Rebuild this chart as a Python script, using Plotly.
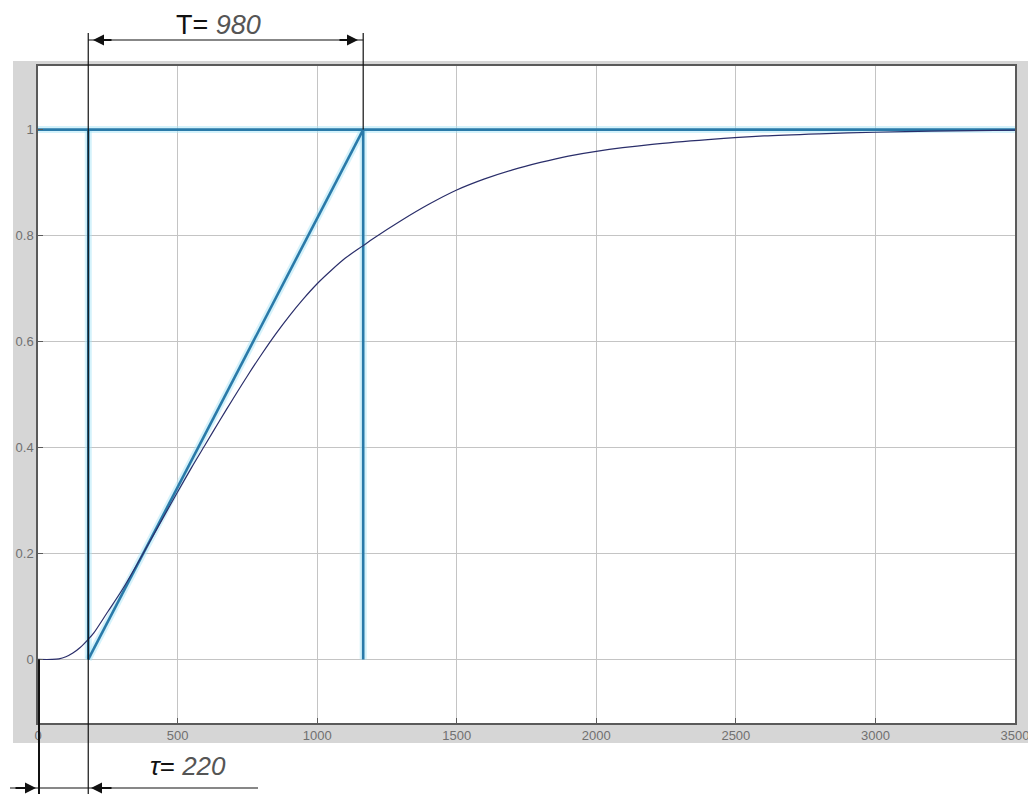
import plotly.graph_objects as go

# ---- data ----
t_vals = [0, 50, 75, 100, 125, 150, 180, 200, 250, 300, 350, 400, 450, 500, 550, 600,
          650, 700, 750, 800, 850, 900, 950, 1000, 1050, 1100, 1165, 1200, 1300, 1400,
          1500, 1600, 1700, 1800, 1900, 2000, 2200, 2400, 2600, 2800, 3000, 3200, 3500]
y_vals = [0, 0, 0.001, 0.005, 0.012, 0.022, 0.038, 0.05, 0.09, 0.13, 0.175, 0.222, 0.269,
          0.316, 0.362, 0.406, 0.45, 0.493, 0.535, 0.575, 0.613, 0.648, 0.68, 0.709,
          0.734, 0.757, 0.781, 0.794, 0.828, 0.859, 0.886, 0.907, 0.924, 0.938, 0.95,
          0.959, 0.972, 0.981, 0.988, 0.992, 0.995, 0.997, 0.999]

delay_x = 180          # start of tangent (vertical line 1)
end_x = 1165           # end of tangent (vertical line 2)
level_y = 1.0          # steady state level
tangent_x = [delay_x, end_x]
tangent_y = [0, level_y]

x_range = [0, 3500]
y_range = [-0.12, 1.12]
x_ticks = [0, 500, 1000, 1500, 2000, 2500, 3000, 3500]
y_ticks = [0, 0.2, 0.4, 0.6, 0.8, 1]
y_tick_text = ["0", "0.2", "0.4", "0.6", "0.8", "1"]

label_T = "T= <span style='color:#555555'><i>980</i></span>"
label_tau = "<i>τ</i>= <span style='color:#555555'><i>220</i></span>"

# ---- layout geometry (pixels) ----
L, R, T, B = 38, 1015, 66, 723
W, H = R - L, B - T


def pxp(xpix):
    return (xpix - L) / W


def pyp(ypix):
    return (B - ypix) / H


def xdata_to_paper(v):
    return (v - x_range[0]) / (x_range[1] - x_range[0])


def ydata_to_paper(v):
    return (v - y_range[0]) / (y_range[1] - y_range[0])


teal = "#2a7aa9"
halo = "rgba(170,230,248,0.5)"

fig = go.Figure()

teal_segments = [
    ([x_range[0], x_range[1]], [level_y, level_y]),
    ([delay_x, delay_x], [0, level_y]),
    ([end_x, end_x], [0, level_y]),
    (tangent_x, tangent_y),
]
for xs, ys in teal_segments:
    fig.add_trace(go.Scatter(x=xs, y=ys, mode="lines",
                             line=dict(color=halo, width=7),
                             hoverinfo="skip", showlegend=False))
for xs, ys in teal_segments:
    fig.add_trace(go.Scatter(x=xs, y=ys, mode="lines",
                             line=dict(color=teal, width=2.6),
                             hoverinfo="skip", showlegend=False))

fig.add_trace(go.Scatter(x=t_vals, y=y_vals, mode="lines",
                         line=dict(color="#2a2e6a", width=1.2, shape="spline", smoothing=0.8),
                         showlegend=False))

shapes = []
# gray figure panel
shapes.append(dict(type="rect", xref="paper", yref="paper",
                   x0=pxp(13), x1=pxp(1035), y0=pyp(743), y1=pyp(61),
                   fillcolor="#d6d6d6", line=dict(width=0), layer="below"))
shapes.append(dict(type="rect", xref="paper", yref="paper",
                   x0=0, x1=1, y0=0, y1=1,
                   fillcolor="white", line=dict(width=0), layer="below"))
# extension lines
blk = dict(color="#111111", width=1.2)
shapes.append(dict(type="line", xref="paper", yref="paper",
                   x0=xdata_to_paper(delay_x), x1=xdata_to_paper(delay_x),
                   y0=pyp(33), y1=pyp(800), line=blk))
shapes.append(dict(type="line", xref="paper", yref="paper",
                   x0=xdata_to_paper(end_x), x1=xdata_to_paper(end_x),
                   y0=pyp(33), y1=ydata_to_paper(level_y), line=blk))
shapes.append(dict(type="line", xref="paper", yref="paper",
                   x0=xdata_to_paper(0) + 0.001, x1=xdata_to_paper(0) + 0.001,
                   y0=ydata_to_paper(0), y1=pyp(800), line=dict(color="#111111", width=2)))
# dimension lines
shapes.append(dict(type="line", xref="paper", yref="paper",
                   x0=xdata_to_paper(delay_x), x1=xdata_to_paper(end_x),
                   y0=pyp(40), y1=pyp(40), line=blk))
shapes.append(dict(type="line", xref="paper", yref="paper",
                   x0=pxp(10), x1=pxp(258),
                   y0=pyp(788), y1=pyp(788), line=blk))

annotations = [
    dict(xref="paper", yref="paper", x=pxp(218), y=pyp(25), text=label_T,
         showarrow=False, xanchor="center", yanchor="middle",
         font=dict(family="Liberation Sans, Arial", size=27, color="#111111")),
    dict(xref="paper", yref="paper", x=pxp(188), y=pyp(766), text=label_tau,
         showarrow=False, xanchor="center", yanchor="middle",
         font=dict(family="Liberation Sans, Arial", size=26, color="#111111")),
]

arrow_common = dict(xref="paper", yref="paper", text="", showarrow=True,
                    arrowhead=2, arrowsize=1.0, arrowwidth=2.2, arrowcolor="#111111",
                    axref="pixel", ayref="pixel", ay=0, standoff=0)
# top arrows (pointing outwards to extension lines)
annotations.append(dict(arrow_common, x=pxp(93), y=pyp(40), ax=20))
annotations.append(dict(arrow_common, x=pxp(358), y=pyp(40), ax=-20))
# bottom arrows (pointing inwards from outside)
annotations.append(dict(arrow_common, x=pxp(36), y=pyp(788), ax=-22))
annotations.append(dict(arrow_common, x=pxp(91), y=pyp(788), ax=22))

axis_common = dict(showgrid=True, gridcolor="#c4c4c4", gridwidth=1,
                   zeroline=False, showline=True, linecolor="#5a5a5a", linewidth=1.5,
                   mirror=True, ticks="inside", ticklen=5, tickcolor="#5a5a5a",
                   ticklabeloverflow="allow", automargin=False,
                   tickfont=dict(family="Liberation Sans, Arial", size=13, color="#707070"))

fig.update_layout(
    width=1028, height=794,
    margin=dict(l=L, r=1028 - R, t=T, b=794 - B),
    paper_bgcolor="white", plot_bgcolor="white",
    xaxis=dict(axis_common, range=x_range, tickvals=x_ticks),
    yaxis=dict(axis_common, range=y_range, tickvals=y_ticks, ticktext=y_tick_text),
    shapes=shapes, annotations=annotations,
)

fig.write_html("out.html")
